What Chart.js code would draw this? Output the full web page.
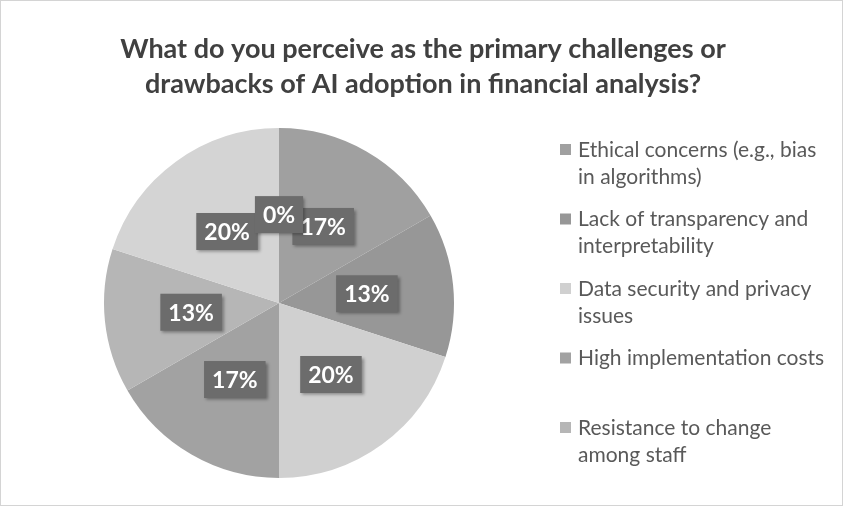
<!DOCTYPE html>
<html>
<head>
<meta charset="utf-8">
<title>AI adoption challenges</title>
<script src="https://cdn.jsdelivr.net/npm/chart.js@4.4.1/dist/chart.umd.min.js"></script>
<style>
    body { margin: 0; background: #fff; }
    #wrap { position: relative; width: 843px; height: 506px; }
    #myChart { outline: 1px solid #d4d4d4; outline-offset: -1px; }
</style>
</head>
<body>
<div id="wrap"><canvas id="myChart"></canvas></div>
<script>
const titleLines = [
    'What do you perceive as the primary challenges or',
    'drawbacks of AI adoption in financial analysis?'
];
const categories = [
    'Ethical concerns (e.g., bias in algorithms)',
    'Lack of transparency and interpretability',
    'Data security and privacy issues',
    'High implementation costs',
    'Resistance to change among staff',
    'Regulatory and compliance issues',
    'Other'
];
const responses = [5, 4, 6, 5, 4, 6, 0];
const sliceColors = ['#a0a0a0', '#979797', '#d0d0d0', '#a2a2a2', '#b6b6b6', '#d4d4d4', '#8a8a8a'];

// the legend box only has room for the first five entries
const legendShown = 5;
const fontName = 'Lato, "Open Sans", sans-serif';

const total = responses.reduce((a, b) => a + b, 0);

// percent boxes in the middle of each slice
const percentLabels = {
    id: 'percentLabels',
    afterDatasetsDraw(chart) {
        const ctx = chart.ctx;
        const arcs = chart.getDatasetMeta(0).data;
        ctx.save();
        ctx.font = 'bold 23px ' + fontName;
        ctx.textAlign = 'center';
        ctx.textBaseline = 'middle';
        arcs.forEach((arc, i) => {
            const p = arc.getProps(['x', 'y', 'startAngle', 'endAngle', 'outerRadius'], true);
            const mid = (p.startAngle + p.endAngle) / 2;
            const r = p.outerRadius * 0.505;
            const x = p.x + Math.cos(mid) * r;
            const y = p.y + Math.sin(mid) * r;
            const text = Math.round(responses[i] / total * 100) + '%';
            const w = ctx.measureText(text).width + 16;
            const h = 37;
            ctx.shadowColor = 'rgba(0,0,0,0.35)';
            ctx.shadowBlur = 3;
            ctx.shadowOffsetX = 2;
            ctx.shadowOffsetY = 2;
            ctx.fillStyle = '#6c6c6c';
            ctx.fillRect(x - w / 2, y - h / 2, w, h);
            ctx.shadowColor = 'transparent';
            ctx.fillStyle = '#ffffff';
            ctx.fillText(text, x, y + 1);
        });
        ctx.restore();
    }
};

function wrapWords(ctx, text, maxWidth) {
    const words = text.split(' ');
    const lines = [];
    var line = '';
    words.forEach(word => {
        const test = line ? line + ' ' + word : word;
        if (ctx.measureText(test).width > maxWidth && line) {
            lines.push(line);
            line = word;
        } else {
            line = test;
        }
    });
    lines.push(line);
    return lines;
}

// title across the top and the wrapped legend on the right
const chartText = {
    id: 'chartText',
    afterDraw(chart) {
        const ctx = chart.ctx;
        const colors = chart.data.datasets[0].backgroundColor;
        ctx.save();
        ctx.textBaseline = 'middle';

        ctx.font = 'bold 27px ' + fontName;
        ctx.fillStyle = '#404040';
        ctx.textAlign = 'center';
        titleLines.forEach((ln, j) => ctx.fillText(ln, 423, 49 + j * 35));

        ctx.font = '21px ' + fontName;
        ctx.textAlign = 'left';
        for (var i = 0; i < legendShown; i++) {
            const y = 150 + i * 69.5;
            ctx.fillStyle = colors[i];
            ctx.fillRect(560, y - 6, 11, 11);
            ctx.fillStyle = '#595959';
            const lines = wrapWords(ctx, chart.data.labels[i], 252);
            lines.forEach((ln, j) => ctx.fillText(ln, 578, y + j * 27));
        }
        ctx.restore();
    }
};

const ctx = document.getElementById('myChart').getContext('2d');

const myChart = new Chart(ctx, {
    type: 'pie',
    data: {
        labels: categories,
        datasets: [{
            data: responses,
            backgroundColor: sliceColors,
            borderWidth: 0
        }]
    },
    options: {
        responsive: true,
        maintainAspectRatio: false,
        animation: false,
        layout: {
            padding: { left: 104, right: 389, top: 128, bottom: 28 }
        },
        plugins: {
            legend: { display: false },
            tooltip: { enabled: false },
            title: { display: false }
        }
    },
    plugins: [percentLabels, chartText]
});
</script>
</body>
</html>
